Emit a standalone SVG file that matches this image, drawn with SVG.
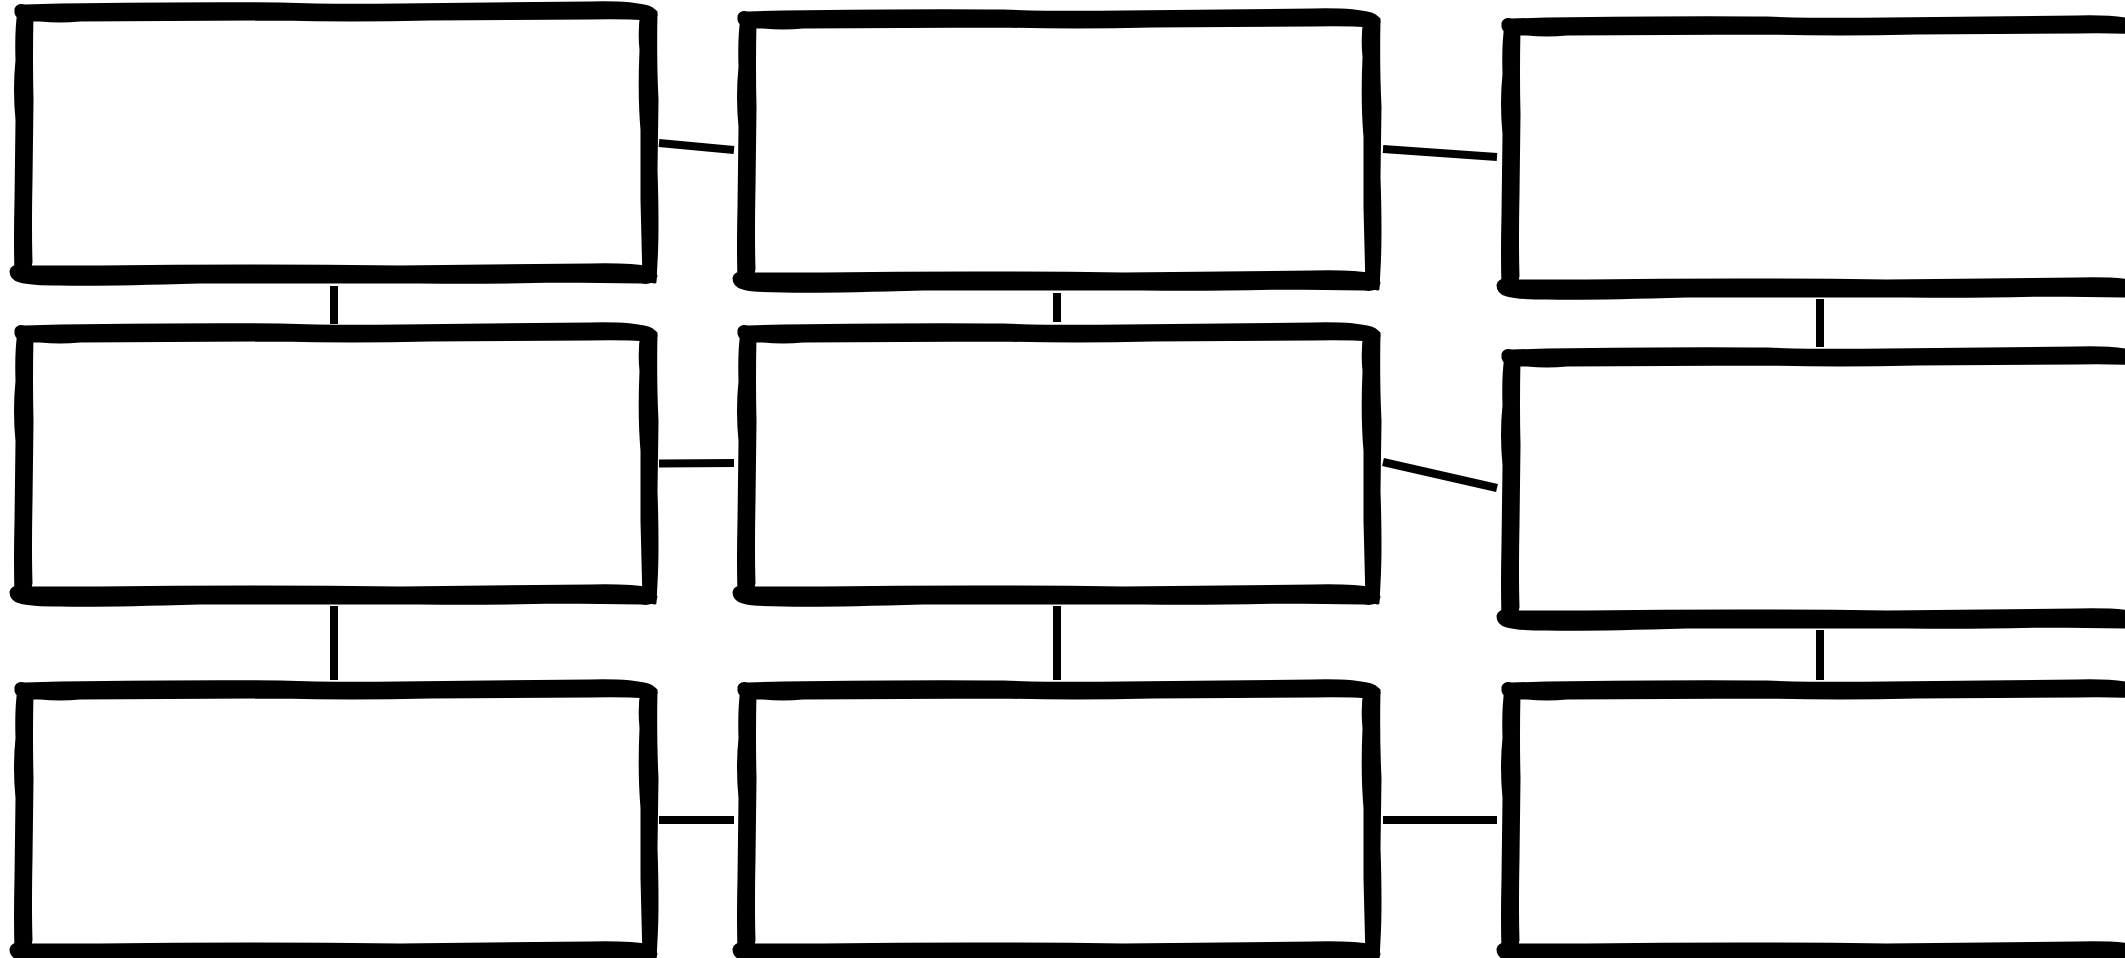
<svg xmlns="http://www.w3.org/2000/svg" xmlns:xlink="http://www.w3.org/1999/xlink" width="2125" height="958" viewBox="0 0 2125 958">
  <style>
    .ink { fill: #000; stroke: #000; stroke-width: 3; stroke-linejoin: round; }
    .conn { stroke: #000; stroke-width: 8; stroke-linecap: butt; fill: none; }
  </style>
  <defs>
    <g id="sketch-box">
      <!-- top edge -->
      <path class="ink" d="M 16 9 Q 18 4 25 6 L 60 5 Q 200 3 280 4 Q 330 6 400 5 L 590 3 Q 630 2 648 7 Q 656 10 656 15 L 650 19 Q 620 17 590 18 L 430 19 Q 350 21 280 19 L 80 20 Q 60 22 40 20 L 26 20 Q 17 18 16 13 Z"/>
      <!-- left edge -->
      <path class="ink" d="M 19 11 L 32 14 Q 31 60 32 100 L 31 180 Q 30 230 31 262 L 29 273 L 16 274 Q 15 240 16 200 L 17 120 Q 14 90 17 60 Q 16 30 19 11 Z"/>
      <!-- right edge -->
      <path class="ink" d="M 642 12 L 656 12 Q 655 60 657 100 L 656 170 Q 658 230 656 262 L 655 282 L 644 280 Q 643 240 642 200 L 642 130 Q 639 95 641 50 Q 639 30 642 12 Z"/>
      <!-- bottom edge -->
      <path class="ink" d="M 11 271 Q 12 265 20 267 L 100 267 Q 250 265 400 267 L 590 265 Q 630 264 650 268 L 656 276 Q 654 284 641 282 L 560 281 Q 480 283 420 282 L 200 282 Q 100 285 60 284 Q 30 284 20 281 Q 11 279 11 271 Z"/>
    </g>
  </defs>
  <rect x="0" y="0" width="2125" height="958" fill="#fff"/>

  <g id="connectors">
    <line class="conn" x1="659" y1="143" x2="734" y2="150"/>
    <line class="conn" x1="1383" y1="149" x2="1497" y2="157"/>
    <line class="conn" x1="334" y1="286" x2="334" y2="324"/>
    <line class="conn" x1="1057" y1="293" x2="1057" y2="322"/>
    <line class="conn" x1="1820" y1="299" x2="1820" y2="347"/>
    <line class="conn" x1="659" y1="463.5" x2="734" y2="463"/>
    <line class="conn" x1="1383" y1="462" x2="1497" y2="488"/>
    <line class="conn" x1="334" y1="606" x2="334" y2="680"/>
    <line class="conn" x1="1057" y1="606" x2="1057" y2="680"/>
    <line class="conn" x1="1820" y1="630" x2="1820" y2="680"/>
    <line class="conn" x1="659" y1="820" x2="734" y2="820"/>
    <line class="conn" x1="1383" y1="820" x2="1497" y2="820"/>
  </g>

  <g id="node-r1c1"><use href="#sketch-box" xlink:href="#sketch-box" transform="translate(0,0)"/></g>
  <g id="node-r1c2"><use href="#sketch-box" xlink:href="#sketch-box" transform="translate(723,7)"/></g>
  <g id="node-r1c3"><use href="#sketch-box" xlink:href="#sketch-box" transform="translate(1487,14)"/></g>
  <g id="node-r2c1"><use href="#sketch-box" xlink:href="#sketch-box" transform="translate(0,321)"/></g>
  <g id="node-r2c2"><use href="#sketch-box" xlink:href="#sketch-box" transform="translate(723,321)"/></g>
  <g id="node-r2c3"><use href="#sketch-box" xlink:href="#sketch-box" transform="translate(1487,345)"/></g>
  <g id="node-r3c1"><use href="#sketch-box" xlink:href="#sketch-box" transform="translate(0,678)"/></g>
  <g id="node-r3c2"><use href="#sketch-box" xlink:href="#sketch-box" transform="translate(723,678)"/></g>
  <g id="node-r3c3"><use href="#sketch-box" xlink:href="#sketch-box" transform="translate(1487,678)"/></g>
</svg>
